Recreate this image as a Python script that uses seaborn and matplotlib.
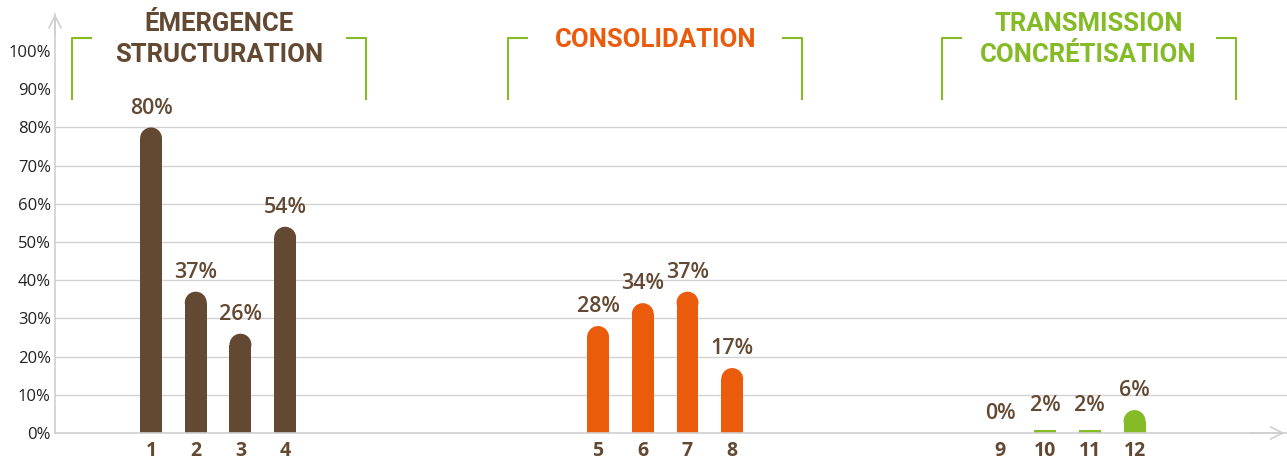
import numpy as np
import pandas as pd
import matplotlib
matplotlib.use("Agg")
import matplotlib.pyplot as plt
import seaborn as sns
from matplotlib.patches import Ellipse

# Data
labels = ["1", "2", "3", "4", "5", "6", "7", "8", "9", "10", "11", "12"]
values = [80, 37, 26, 54, 28, 34, 37, 17, 0, 2, 2, 6]
groups = ["g1"] * 4 + ["g2"] * 4 + ["g3"] * 4
positions = [0, 1, 2, 3, 10, 11, 12, 13, 19, 20, 21, 22]

group_titles = ["ÉMERGENCE\nSTRUCTURATION", "CONSOLIDATION", "TRANSMISSION\nCONCRÉTISATION"]
title_centers = [1.53, 11.28, 20.97]

BROWN = "#634832"
ORANGE = "#EA5B0C"
GREEN = "#84BB26"
palette = {"g1": BROWN, "g2": ORANGE, "g3": GREEN}
title_colors = [BROWN, ORANGE, GREEN]

df = pd.DataFrame({"pos": positions, "value": values, "group": groups, "label": labels})

sns.set_theme(style="white")
plt.rcParams["font.family"] = ["Open Sans", "DejaVu Sans"]

W, H = 1287, 459
fig = plt.figure(figsize=(W / 100, H / 100), dpi=100)
ax_rect = [55 / W, 26 / H, 1 - 55 / W, (433 - 14) / H]
ax = fig.add_axes(ax_rect)

xmin, xmax = -2.148, 25.41
ymin, ymax = 0, 109.7

sns.barplot(data=df, x="pos", y="value", hue="group", palette=palette,
            native_scale=True, width=0.49, legend=False, linewidth=0,
            saturation=1, ax=ax)

ax.set_xlim(xmin, xmax)
ax.set_ylim(ymin, ymax)

# rounded caps on top of bars
x_per_px = (xmax - xmin) / (W * ax_rect[2])
y_per_px = (ymax - ymin) / (H * ax_rect[3])
for bar in list(ax.patches):
    x0, w, h = bar.get_x(), bar.get_width(), bar.get_height()
    ry = (w / x_per_px / 2) * y_per_px
    if h > 1.5 * ry:
        bar.set_height(h - ry)
        cap = Ellipse((x0 + w / 2, h - ry), w, 2 * ry,
                      facecolor=bar.get_facecolor(), linewidth=0)
        ax.add_patch(cap)
    else:
        # very small values are drawn flat
        bar.set_height(h * 0.4)

# value labels
for p, v in zip(positions, values):
    ax.annotate(f"{v}%", (p, v), xytext=(0, 10), textcoords="offset points",
                ha="center", va="baseline", fontsize=15.5, color=BROWN,
                fontweight="semibold")

# grid only up to 80%
for gy in range(10, 90, 10):
    ax.axhline(gy, color="#d2d2d2", lw=1.0, zorder=0)

ax.set_yticks(range(0, 110, 10))
ax.set_yticklabels([f"{t}%" for t in range(0, 110, 10)], fontsize=12, color="#222222")
ax.set_xticks(positions)
ax.set_xticklabels(labels, fontsize=14, fontweight="bold", color=BROWN)
ax.tick_params(axis="y", length=0, pad=3)
ax.tick_params(axis="x", length=0, pad=6)
ax.set_xlabel("")
ax.set_ylabel("")

for s in ["top", "right"]:
    ax.spines[s].set_visible(False)
for s in ["left", "bottom"]:
    ax.spines[s].set_color("#cfcfcf")
    ax.spines[s].set_linewidth(1.2)

# open arrowheads at the axis ends
ax.annotate("", xy=(0, 1.0), xycoords="axes fraction", xytext=(0, 0.95),
            arrowprops=dict(arrowstyle="->", color="#cfcfcf", lw=1.2,
                            mutation_scale=22, shrinkA=0, shrinkB=0))
ax.annotate("", xy=(0.998, 0), xycoords="axes fraction", xytext=(0.97, 0),
            arrowprops=dict(arrowstyle="->", color="#cfcfcf", lw=1.2,
                            mutation_scale=22, shrinkA=0, shrinkB=0))

# group titles and brackets
half = 147 * x_per_px
arm = 20 * x_per_px
top_y, bot_y = 103.4, 87.2
for title, cx, col in zip(group_titles, title_centers, title_colors):
    ax.text(cx, 103.0, title, ha="center", va="center", fontsize=18.5,
            fontweight="bold", color=col, linespacing=1.38, clip_on=False,
            fontstretch="condensed", family=["Roboto", "DejaVu Sans"])
    ax.plot([cx - half + arm, cx - half, cx - half], [top_y, top_y, bot_y],
            color=GREEN, lw=1.5, solid_capstyle="butt", clip_on=False)
    ax.plot([cx + half - arm, cx + half, cx + half], [top_y, top_y, bot_y],
            color=GREEN, lw=1.5, solid_capstyle="butt", clip_on=False)

fig.savefig("out.png", dpi=100)
